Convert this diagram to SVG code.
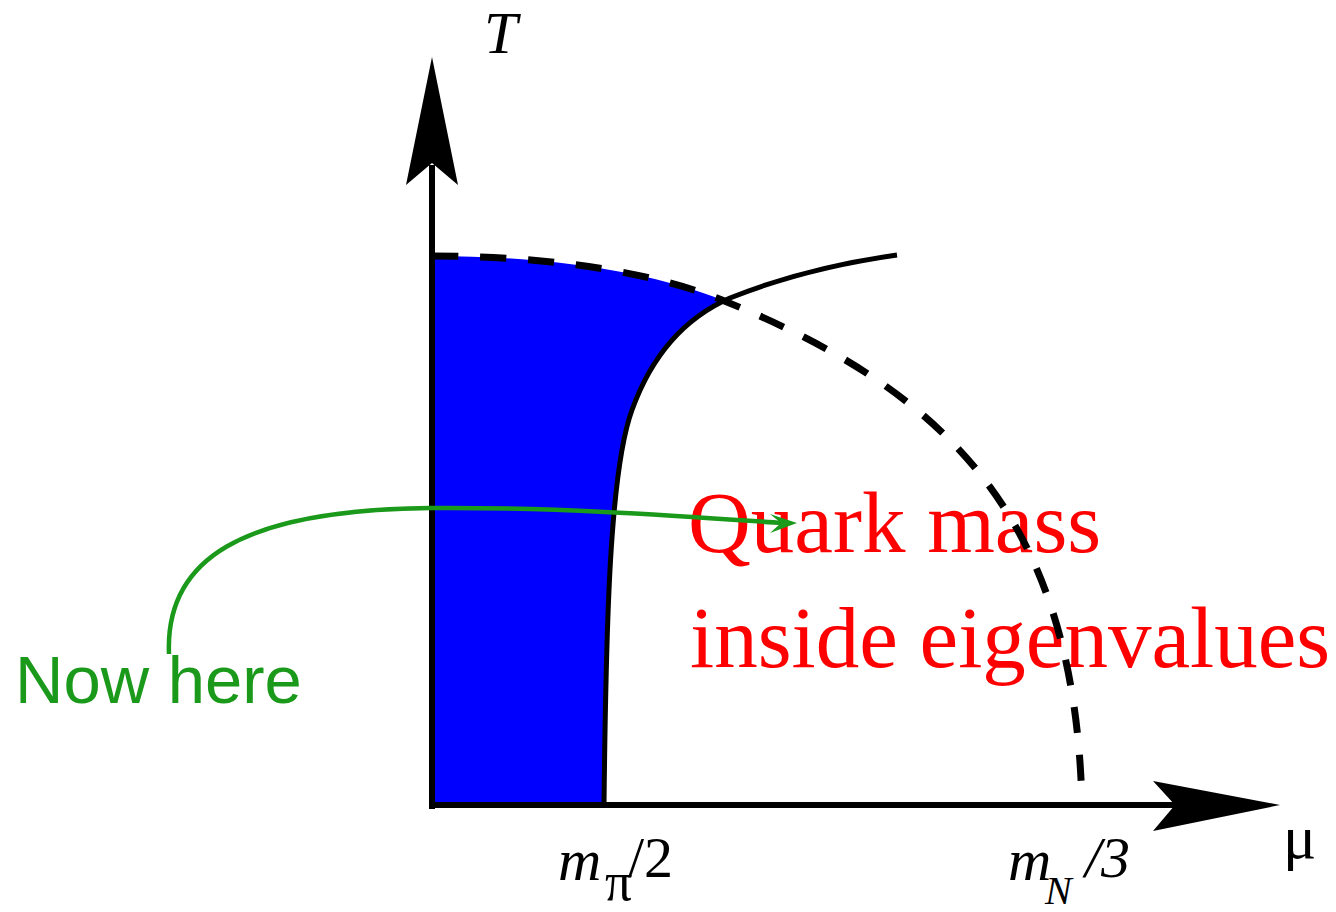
<svg xmlns="http://www.w3.org/2000/svg" width="1336" height="912" viewBox="0 0 1336 912">
  <style>
    .serif { font-family: "Liberation Serif", "Times New Roman", serif; }
    .it { font-style: italic; }
    .axis { stroke: #000; stroke-width: 6; fill: none; }
    .head { fill: #000; stroke: none; }
    .red { fill: #ff0000; font-size: 87px; }
    .green { fill: #1a991a; }
  </style>
  <rect width="1336" height="912" fill="#fff"/>

  <g id="region-blue">
    <path d="M432,805 L432,256 C560,256 660,275 722,300 L730,298 C680,320 650,360 632,410 C610,470 606,620 604,805 Z" fill="#0000ff"/>
  </g>

  <g id="curve-solid">
    <path d="M604,805 C606,620 610,470 632,410 C650,360 680,320 730,298 C780,278 840,263 897,255" fill="none" stroke="#000" stroke-width="5"/>
  </g>

  <g id="label-quark">
    <text class="serif red" x="688" y="552">Quark mass</text>
    <text class="serif red" x="690" y="667">inside eigenvalues</text>
  </g>

  <g id="curve-dashed">
    <path d="M432,256 C560,256 660,275 722,300 C950,392 1075,520 1082,805" fill="none" stroke="#000" stroke-width="7" stroke-dasharray="26 22"/>
  </g>

  <g id="axes">
    <line class="axis" x1="432" y1="809" x2="432" y2="165"/>
    <polygon class="head" points="432,57 458,185 432,163 406,185"/>
    <line class="axis" x1="429" y1="805" x2="1177" y2="805"/>
    <polygon class="head" points="1280,805 1153,831 1175,805 1153,781"/>
  </g>

  <g id="connectors">
    <path d="M169,654 C165,560 240,510 430,508 C560,507 680,516 782,523" fill="none" stroke="#1a991a" stroke-width="4.5"/>
    <polygon points="797,523 770,533 781,523 770,514" fill="#1a991a"/>
  </g>

  <g id="label-now-here">
    <text class="green" x="15" y="703" font-family="Liberation Sans, Arial, sans-serif" font-size="67">Now here</text>
  </g>

  <g id="label-T">
    <text class="serif it" x="484" y="53" font-size="60">T</text>
  </g>

  <g id="label-mu">
    <text class="serif" x="1283" y="858" font-size="62">μ</text>
  </g>

  <g id="label-mpi">
    <text class="serif it" x="558" y="880" font-size="60">m</text>
    <text class="serif" x="605" y="900" font-size="54">π</text>
    <text class="serif" x="628" y="877" font-size="58">/2</text>
  </g>

  <g id="label-mN">
    <text class="serif it" x="1008" y="880" font-size="60">m</text>
    <text class="serif it" x="1045" y="904" font-size="40">N</text>
    <text class="serif it" x="1085" y="877" font-size="58">/3</text>
  </g>
</svg>
